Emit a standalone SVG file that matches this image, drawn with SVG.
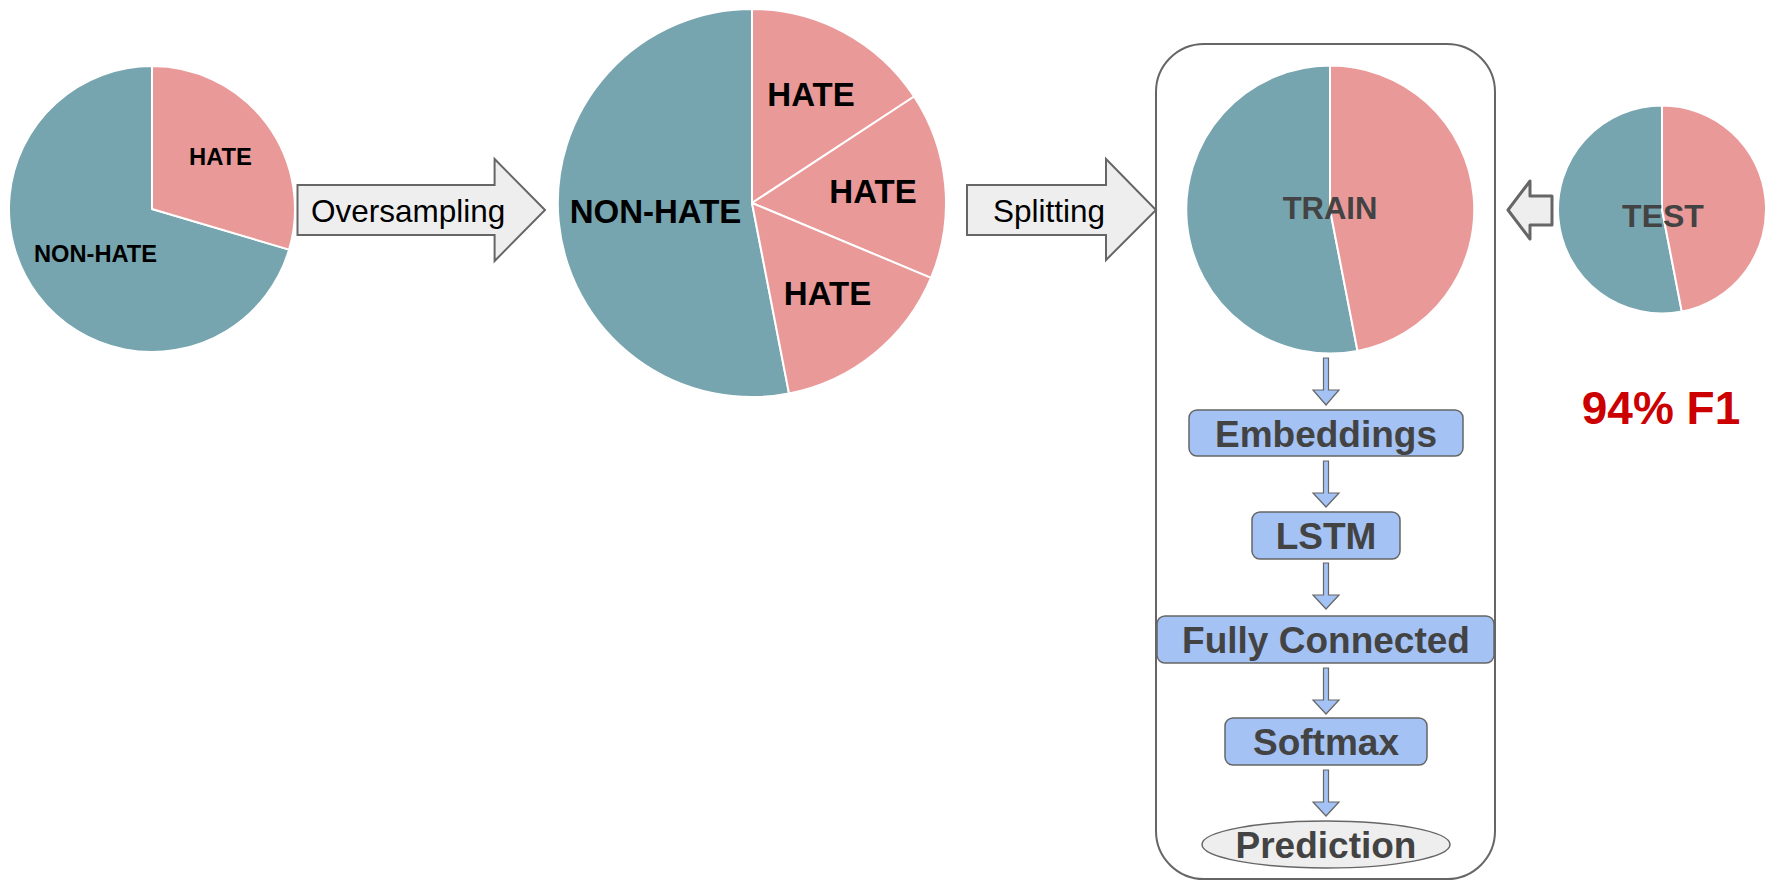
<svg xmlns="http://www.w3.org/2000/svg" width="1766" height="881" viewBox="0 0 1766 881">
<style>
.teal{fill:#76a5af;stroke:#ffffff;stroke-width:2;stroke-linejoin:round}
.pink{fill:#ea9999;stroke:#ffffff;stroke-width:2;stroke-linejoin:round}
.lbl{font-family:"Liberation Sans",Arial,sans-serif;font-weight:bold;fill:#000000;text-anchor:middle}
.dk{font-family:"Liberation Sans",Arial,sans-serif;font-weight:bold;fill:#434343;text-anchor:middle}
.big{fill:#eeeeee;stroke:#666666;stroke-width:2}
.bt{font-family:"Liberation Sans",Arial,sans-serif;font-size:31.5px;fill:#000000}
.box{fill:#a4c2f4;stroke:#666666;stroke-width:1.5}
.darr{fill:#a4c2f4;stroke:#666666;stroke-width:1.2;stroke-linejoin:miter}
.bx{font-size:37px}
</style>
<rect width="1766" height="881" fill="#ffffff"/>

<g id="pie-original">
<path class="teal" d="M152,209 L289.1,249.6 A143,143 0 1 1 152,66 Z"/>
<path class="pink" d="M152,209 L152,66 A143,143 0 0 1 289.1,249.6 Z"/>
<text class="lbl" x="220.5" y="165" font-size="24" textLength="63" lengthAdjust="spacingAndGlyphs">HATE</text>
<text class="lbl" x="95.5" y="262" font-size="24" textLength="123" lengthAdjust="spacingAndGlyphs">NON-HATE</text>
</g>

<g id="pie-oversampled">
<path class="teal" d="M752,203 L789,393.4 A194,194 0 1 1 752,9 Z"/>
<path class="pink" d="M752,203 L752,9 A194,194 0 0 1 914.1,96.5 Z"/>
<path class="pink" d="M752,203 L914.1,96.5 A194,194 0 0 1 931,277.9 Z"/>
<path class="pink" d="M752,203 L931,277.9 A194,194 0 0 1 789,393.4 Z"/>
<text class="lbl" x="811" y="106" font-size="33">HATE</text>
<text class="lbl" x="873" y="203" font-size="33">HATE</text>
<text class="lbl" x="827.5" y="305" font-size="33">HATE</text>
<text class="lbl" x="655.5" y="223" font-size="33">NON-HATE</text>
</g>

<g id="container">
<rect x="1156" y="44" width="339" height="835" rx="48" ry="48" fill="none" stroke="#666666" stroke-width="2"/>
</g>

<g id="pie-train">
<path class="teal" d="M1330,209.5 L1357.5,350.9 A144,144 0 1 1 1330,65.5 Z"/>
<path class="pink" d="M1330,209.5 L1330,65.5 A144,144 0 0 1 1357.5,350.9 Z"/>
<text class="dk" x="1330" y="219" font-size="31">TRAIN</text>
</g>

<g id="pie-test">
<path class="teal" d="M1662,209.5 L1681.8,311.6 A104,104 0 1 1 1662,105.5 Z"/>
<path class="pink" d="M1662,209.5 L1662,105.5 A104,104 0 0 1 1681.8,311.6 Z"/>
<text class="dk" x="1663" y="227" font-size="32">TEST</text>
</g>

<g id="score">
<text x="1661" y="424" font-family="'Liberation Sans',Arial,sans-serif" font-weight="bold" font-size="46" fill="#cc0000" text-anchor="middle">94% F1</text>
</g>

<g id="embeddings">
<rect class="box" x="1189" y="410" width="274" height="46" rx="8"/>
<text class="dk bx" x="1326" y="447">Embeddings</text>
</g>
<g id="lstm">
<rect class="box" x="1252" y="512" width="148" height="47" rx="8"/>
<text class="dk bx" x="1326" y="549">LSTM</text>
</g>
<g id="fully-connected">
<rect class="box" x="1157" y="616" width="337" height="47" rx="8"/>
<text class="dk bx" x="1326" y="653">Fully Connected</text>
</g>
<g id="softmax">
<rect class="box" x="1225" y="718" width="202" height="47" rx="8"/>
<text class="dk bx" x="1326" y="755">Softmax</text>
</g>
<g id="prediction">
<ellipse cx="1326" cy="844.5" rx="124" ry="23.5" fill="#eeeeee" stroke="#666666" stroke-width="1.5"/>
<text class="dk bx" x="1326" y="858">Prediction</text>
</g>

<g id="connectors">
<path class="big" d="M297.5,185 H494.6 V159 L545,210 L494.6,261 V235 H297.5 Z"/>
<text class="bt" x="311" y="222">Oversampling</text>
<path class="big" d="M967,185 H1106 V159 L1156,210 L1106,260 V235 H967 Z"/>
<text class="bt" x="993" y="222">Splitting</text>
<path d="M1508,210 L1530,181 V196 H1552 V225 H1530 V239 Z" fill="#eeeeee" stroke="#666666" stroke-width="3" stroke-linejoin="round"/>
<path class="darr" d="M1323.5,358 H1328.5 V390 H1339 L1326,405 L1313,390 H1323.5 Z"/>
<path class="darr" d="M1323.5,461 H1328.5 V493 H1339 L1326,507 L1313,493 H1323.5 Z"/>
<path class="darr" d="M1323.5,563 H1328.5 V595 H1339 L1326,609 L1313,595 H1323.5 Z"/>
<path class="darr" d="M1323.5,668 H1328.5 V700 H1339 L1326,714 L1313,700 H1323.5 Z"/>
<path class="darr" d="M1323.5,770 H1328.5 V802 H1339 L1326,816 L1313,802 H1323.5 Z"/>
</g>
</svg>
